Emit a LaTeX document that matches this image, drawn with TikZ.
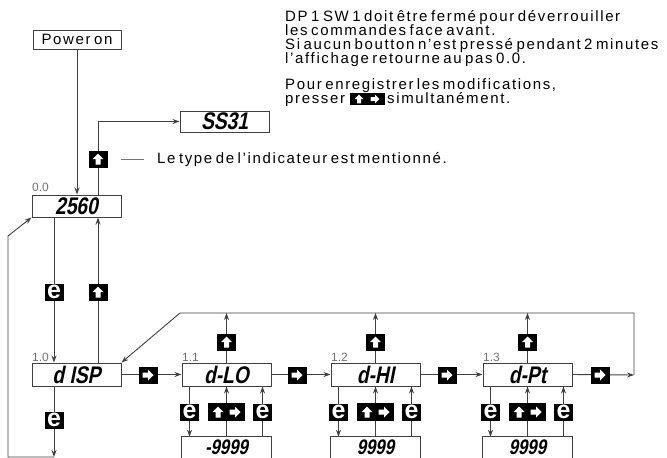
\documentclass[tikz,border=0pt]{standalone}
\usepackage{fontspec}
\setmainfont[LetterSpace=11,WordSpace=0.6]{Liberation Sans}
\newfontfamily\segfont[FakeStretch=0.8,FakeSlant=0.2]{Liberation Sans}
\newfontfamily\keyfont{Liberation Sans}
\newfontfamily\lblfont{Liberation Sans}
\usetikzlibrary{arrows.meta}
\definecolor{ln}{gray}{0.25}
\definecolor{lbl}{gray}{0.45}
\begin{document}
\begin{tikzpicture}[x=1pt,y=-1pt,
  font=\fontsize{15}{15}\selectfont,
  box/.style={draw=ln, line width=1pt, minimum width=89pt, minimum height=22pt, inner sep=0pt},
  disp/.style={box, font=\segfont\bfseries\fontsize{24}{24}\selectfont},
  subframe/.style={draw=none, minimum width=89pt, minimum height=42pt, inner sep=0pt},
  subtxt/.style={anchor=base, inner sep=0pt, font=\segfont\bfseries\fontsize{21}{21}\selectfont},
  wire/.style={draw=ln, line width=0.9pt},
  arr/.style={wire, -{Stealth[length=7pt,width=5pt]}},
  txt/.style={anchor=base west, inner sep=0pt},
  lbl/.style={anchor=base west, inner sep=0pt, text=lbl, font=\lblfont\fontsize{12}{12}\selectfont},
  key/.style={fill=black, minimum width=19pt, minimum height=17pt, inner sep=0pt, text=white},
  ekey/.style={key, font=\keyfont\bfseries\fontsize{25}{25}\selectfont, text depth=0pt, text height=13pt},
  bothkey/.style={key, minimum width=37pt, minimum height=18pt},
  smallkey/.style={key, minimum width=35pt, minimum height=12pt},
  upglyph/.pic={\fill[white] (0,-5.5) -- (5.5,0) -- (2.5,0) -- (2.5,5.5) -- (-2.5,5.5) -- (-2.5,0) -- (-5.5,0) -- cycle;},
  rightglyph/.pic={\fill[white] (5.5,0) -- (0,-5.5) -- (0,-2.5) -- (-5.5,-2.5) -- (-5.5,2.5) -- (0,2.5) -- (0,5.5) -- cycle;}
]
\useasboundingbox (0,0) rectangle (667,458);

% ---- top texts
\node[txt] (t1) at (285,21) {DP 1 SW 1 doit être fermé pour déverrouiller};
\node[txt] (t2) at (285,35) {les commandes face avant.};
\node[txt] (t3) at (285,49) {Si aucun boutton n’est pressé pendant 2 minutes};
\node[txt] (t4) at (285,63) {l’affichage retourne au pas 0.0.};
\node[txt] (t5) at (285,89) {Pour enregistrer les modifications,};
\node[txt] (t6) at (285,103) {presser};
\node[smallkey] (sk) at (367,99) {};
\pic[scale=0.8] at ([xshift=-8pt]sk.center) {upglyph};
\pic[scale=0.8] at ([xshift=8pt]sk.center) {rightglyph};
\node[txt] (t7) at (387,103) {simultanément.};

% ---- boxes
\node[box, minimum width=88pt, minimum height=19pt] (power) at (77,39.5) {Power on};
\node[disp] (d00) at (76.5,206) {2560};
\node[disp, minimum height=21pt] (ss) at (224.5,121.5) {SS31};
\node[disp, minimum height=23pt] (d10) at (76.5,374.5) {d ISP};
\node[disp, minimum height=23pt] (d11) at (226.5,374.5) {d-LO};
\node[disp, minimum height=23pt] (d12) at (375.5,374.5) {d-HI};
\node[disp, minimum height=23pt] (d13) at (527.5,374.5) {d-Pt};
\foreach \n/\x/\v in {11/226.5/-9999,12/375.5/9999,13/527.5/9999}{
  \node[subframe] (s\n) at (\x,458) {};
  \draw[draw=ln, line width=1pt] (s\n.west) -- (s\n.north west) -- (s\n.north east) -- (s\n.east);
  \node[subtxt] (v\n) at (\x,454) {\v};
}

% ---- step labels
\node[lbl] (l00) at (32,191) {0.0};
\node[lbl] (l10) at (32,361) {1.0};
\node[lbl] (l11) at (182,361) {1.1};
\node[lbl] (l12) at (331,361) {1.2};
\node[lbl] (l13) at (483,361) {1.3};

% ---- coordinates
\coordinate (cbot) at (54,457);
\coordinate (cleft) at (8,457);
\coordinate (cup) at (8,236);
\coordinate (rend) at (634,375);
\coordinate (rtop) at (634,313);
\coordinate (ltop) at (180,313);

% ---- connectors
\draw[arr] (power.south) -- (power.south |- d00.north);
\draw[arr] ([xshift=21.5pt]d00.north) |- (ss.west);
\draw[arr] ([xshift=-22.5pt]d00.south) -- ([xshift=-22.5pt]d10.north);
\draw[arr] ([xshift=21.5pt]d10.north) -- ([xshift=21.5pt]d00.south);
\draw[arr] ([xshift=-22.5pt]d10.south) -- (cbot);
\draw[arr] (cbot) -- (cleft) -- (cup) -- (d00.south west);

\draw[arr] (d10.east) -- (d11.west);
\draw[arr] (d11.east) -- (d12.west);
\draw[arr] (d12.east) -- (d13.west);
\draw[arr] (d13.east) -- (rend);
\draw[arr] (rend) -- (rtop) -- (ltop) -- (d10.north east);

\draw[arr] (d11.north) -- (d11.north |- ltop);
\draw[arr] (d12.north) -- (d12.north |- ltop);
\draw[arr] (d13.north) -- (d13.north |- ltop);

\foreach \n in {11,12,13}{
  \draw[arr] ([xshift=-37pt]d\n.south) -- ([xshift=-37pt]s\n.north);
  \draw[arr] (s\n.north) -- (d\n.south);
  \draw[arr] ([xshift=36pt]s\n.north) -- ([xshift=36pt]d\n.south);
}

% ---- keys
\node[key] (k0) at (98,159) {};
\pic at (k0.center) {upglyph};
\draw[wire, draw=lbl] (121,159) -- (144,159) coordinate (dashend);
\node[txt] (type) at (157,163) {Le type de l’indicateur est mentionné.};

\node[ekey] (e1) at (54,292) {e};
\node[key] (u1) at (98,292) {};
\pic at (u1.center) {upglyph};
\node[ekey] (e2) at (54,420) {e};

\foreach \x [count=\i] in {148,297,447,600}{
  \node[key] (r\i) at (\x,375) {};
  \pic at (r\i.center) {rightglyph};
}
\foreach \x [count=\i] in {226.5,375.5,527.5}{
  \node[key] (u1\i) at (\x,342) {};
  \pic at (u1\i.center) {upglyph};
}

\foreach \n/\x in {11/226.5,12/375.5,13/527.5}{
  \node[ekey] (ea\n) at (\x-37,412) {e};
  \node[bothkey] (b\n) at (\x,412) {};
  \pic at ([xshift=-8.5pt]b\n.center) {upglyph};
  \pic at ([xshift=8.5pt]b\n.center) {rightglyph};
  \node[ekey] (eb\n) at (\x+36,412) {e};
}
\end{tikzpicture}
\end{document}
